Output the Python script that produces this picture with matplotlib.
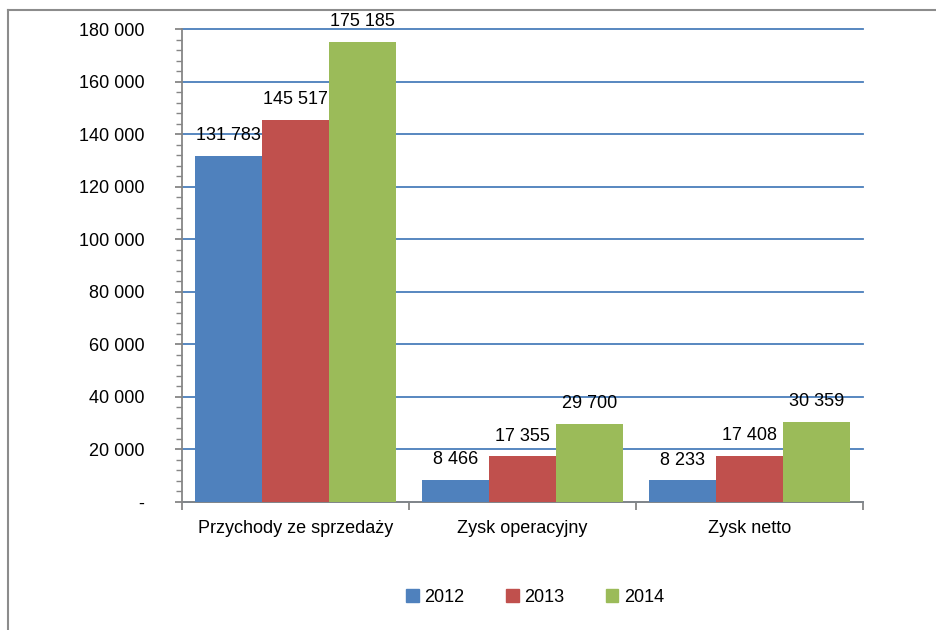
import matplotlib
matplotlib.use("Agg")
import matplotlib.pyplot as plt
from matplotlib.lines import Line2D
from matplotlib.ticker import FuncFormatter, MultipleLocator
from matplotlib.patches import Patch
import numpy as np

categories = ["Przychody ze sprzedaży", "Zysk operacyjny", "Zysk netto"]
years = ["2012", "2013", "2014"]
v2012 = [131783, 8466, 8233]
v2013 = [145517, 17355, 17408]
v2014 = [175185, 29700, 30359]
series = [v2012, v2013, v2014]
colors = ["#4f81bd", "#c0504d", "#9bbb59"]

FONT = ["Liberation Sans Narrow", "Liberation Sans", "DejaVu Sans"]
plt.rcParams["font.family"] = FONT
FS = 13

fig = plt.figure(figsize=(9.36, 6.3), dpi=100)
ax = fig.add_axes([182/936, 1-502/630, (863-182)/936, (502-29)/630])

def fmt(v):
    if v == 0:
        return "-"
    return f"{int(v):,}".replace(",", " ")

x = np.arange(len(categories))
w = 0.295
for i, (vals, c, yr) in enumerate(zip(series, colors, years)):
    pos = x + (i - 1) * w
    ax.bar(pos, vals, width=w, color=c, label=yr, zorder=3)
    for p, v in zip(pos, vals):
        ax.text(p, v + 4500, fmt(v), ha="center", va="bottom", fontsize=FS, zorder=4)

ax.set_xlim(-0.5, 2.5)
ax.set_ylim(0, 180000)
ax.yaxis.set_major_locator(MultipleLocator(20000))
ax.yaxis.set_minor_locator(MultipleLocator(4000))
ax.yaxis.set_major_formatter(FuncFormatter(lambda v, p: fmt(v)))
ax.grid(axis="y", which="major", color="#4a7ebb", linewidth=1.3, zorder=1)
for gl in ax.get_ygridlines():
    gl.set_clip_on(False)
for s in ["top", "right"]:
    ax.spines[s].set_visible(False)
for s in ["left", "bottom"]:
    ax.spines[s].set_color("#868686")
    ax.spines[s].set_linewidth(1.3)
ax.tick_params(axis="y", which="major", length=5, color="#868686", width=1.3, labelsize=FS, pad=22)
ax.tick_params(axis="y", which="minor", length=4, color="#868686", width=1)
ax.set_xticks([-0.5, 0.5, 1.5, 2.5], minor=True)
ax.set_xticks(x)
ax.set_xticklabels(categories)
ax.tick_params(axis="x", which="major", length=0, labelsize=FS, pad=13)
ax.tick_params(axis="x", which="minor", length=6, color="#868686", width=1.3)

handles = [Patch(color=c, label=y) for c, y in zip(colors, years)]
fig.legend(handles=handles, loc="center", bbox_to_anchor=(535/936, 1-597/630), ncol=3,
           frameon=False, fontsize=FS, handlelength=0.7, handleheight=0.7,
           handletextpad=0.3, columnspacing=2.3)

fig.add_artist(Line2D([8/936, 1], [1-10/630, 1-10/630], color="#8c8c8c", linewidth=1.5, transform=fig.transFigure))
fig.add_artist(Line2D([8/936, 8/936], [0, 1-10/630], color="#8c8c8c", linewidth=1.5, transform=fig.transFigure))

fig.savefig("out.png", dpi=100)
